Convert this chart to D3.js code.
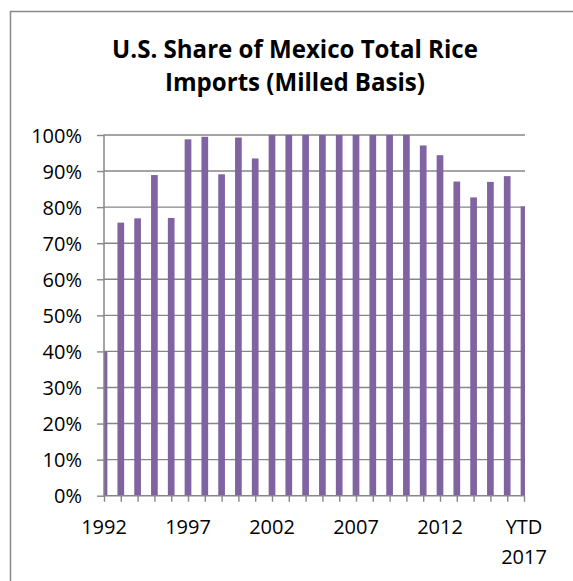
<!DOCTYPE html>
<html lang="en">
<head>
    <meta charset="utf-8">
    <script src="https://d3js.org/d3.v7.min.js"></script>
    <style type="text/css">
        body {
            margin: 0;
            background: white;
            overflow: hidden;
        }
        text {
            font-family: "Open Sans", sans-serif;
            fill: #000;
        }
    </style>
</head>
<body>
<svg id="chart"></svg>
<script type="text/javascript">
    // data
    var years = [1992, 1993, 1994, 1995, 1996, 1997, 1998, 1999, 2000, 2001, 2002, 2003, 2004,
                 2005, 2006, 2007, 2008, 2009, 2010, 2011, 2012, 2013, 2014, 2015, 2016, 2017];
    var shares = [40.0, 75.7, 76.9, 88.9, 77.0, 98.8, 99.5, 89.1, 99.3, 93.5, 100, 100, 100,
                  100, 100, 100, 100, 100, 100, 97.1, 94.4, 87.1, 82.7, 87.0, 88.6, 80.2];
    var yTicks = [0, 10, 20, 30, 40, 50, 60, 70, 80, 90, 100];
    var xLabelYears = [1992, 1997, 2002, 2007, 2012, 2017];
    var xLabelText = ["1992", "1997", "2002", "2007", "2012", "YTD|2017"];
    var titleLines = ["U.S. Share of Mexico Total Rice", "Imports (Milled Basis)"];

    var width = 573;
    var height = 581;
    var plot = { left: 104, right: 524, top: 135, bottom: 495.7 };
    var barColor = "#8064A2";
    var gridColor = "#868686";

    var svg = d3.select("#chart")
        .attr("width", width)
        .attr("height", height);

    // outer frame (runs past the right and bottom edges)
    svg.append("rect")
        .attr("x", 10.5)
        .attr("y", 11.5)
        .attr("width", 700)
        .attr("height", 700)
        .style("fill", "none")
        .style("stroke", "#898989")
        .style("stroke-width", 1.5);

    var x = d3.scaleLinear()
        .domain([years[0], years[years.length - 1]])
        .range([plot.left, plot.right]);

    var y = d3.scaleLinear()
        .domain([0, 100])
        .range([plot.bottom, plot.top]);

    // title, sized to the reference width
    var title = svg.append("g");
    var titleWidths = [366, 250];
    var titleBase = [57.7, 91.2];
    titleLines.forEach(function (line, i) {
        var t = title.append("text")
            .attr("x", 295)
            .attr("y", titleBase[i])
            .attr("text-anchor", "middle")
            .style("font-weight", "bold")
            .style("font-size", "24px")
            .text(line);
        var w = t.node().getComputedTextLength();
        if (i === 0) {
            var fs = 24 * titleWidths[0] / w;
            title.selectAll("text").style("font-size", fs + "px");
        } else {
            t.style("font-size", title.select("text").style("font-size"));
        }
    });

    // gridlines
    svg.append("g")
        .selectAll("line")
        .data(yTicks.slice(1))
        .join("line")
        .attr("x1", plot.left)
        .attr("x2", plot.right + 1)
        .attr("y1", function (d) { return y(d); })
        .attr("y2", function (d) { return y(d); })
        .style("stroke", gridColor)
        .style("stroke-width", 1.4);

    // bars, clipped to the plot area like the date axis in the original
    svg.append("clipPath")
        .attr("id", "plotClip")
        .append("rect")
        .attr("x", plot.left)
        .attr("y", 0)
        .attr("width", plot.right + 1 - plot.left)
        .attr("height", plot.bottom);

    var barW = 6.7;
    svg.append("g")
        .attr("clip-path", "url(#plotClip)")
        .selectAll("rect")
        .data(years)
        .join("rect")
        .attr("x", function (d) { return x(d) - barW / 2; })
        .attr("y", function (d, i) { return y(shares[i]); })
        .attr("width", barW)
        .attr("height", function (d, i) { return plot.bottom - y(shares[i]); })
        .style("fill", barColor);

    // y axis
    var yAxis = svg.append("g")
        .attr("transform", "translate(" + plot.left + ",0)")
        .call(d3.axisLeft(y)
            .tickValues(yTicks)
            .tickSize(7)
            .tickPadding(15)
            .tickFormat(function (d) { return d + "%"; }));
    yAxis.select(".domain").remove();
    yAxis.append("line")
        .attr("x1", 0).attr("x2", 0)
        .attr("y1", plot.top - 0.5).attr("y2", plot.bottom + 0.5)
        .style("stroke", gridColor)
        .style("stroke-width", 1.5);
    yAxis.selectAll(".tick line").style("stroke", gridColor).style("stroke-width", 1.4);
    yAxis.selectAll(".tick text")
        .style("font-size", "20px")
        .attr("dy", "0.36em")
        .attr("fill", "#000")
        .style("font-family", "'Open Sans', sans-serif");

    // x axis
    var xAxis = svg.append("g")
        .attr("transform", "translate(0," + plot.bottom + ")")
        .call(d3.axisBottom(x)
            .tickValues(years)
            .tickSize(6)
            .tickFormat(""));
    xAxis.select(".domain").remove();
    xAxis.append("line")
        .attr("x1", plot.left).attr("x2", plot.right + 1)
        .attr("y1", 0).attr("y2", 0)
        .style("stroke", gridColor)
        .style("stroke-width", 1.5);
    xAxis.selectAll(".tick line").style("stroke", gridColor).style("stroke-width", 1.4);

    // x labels every five years
    var labels = svg.append("g")
        .selectAll("text")
        .data(xLabelYears)
        .join("text")
        .attr("x", function (d) { return x(d); })
        .attr("y", 534)
        .attr("text-anchor", "middle")
        .style("font-size", "20px");
    labels.each(function (d, i) {
        var parts = xLabelText[i].split("|");
        var el = d3.select(this);
        parts.forEach(function (p, j) {
            el.append("tspan")
                .attr("x", x(d))
                .attr("dy", j === 0 ? 0 : 30)
                .text(p);
        });
    });
</script>
</body>
</html>
